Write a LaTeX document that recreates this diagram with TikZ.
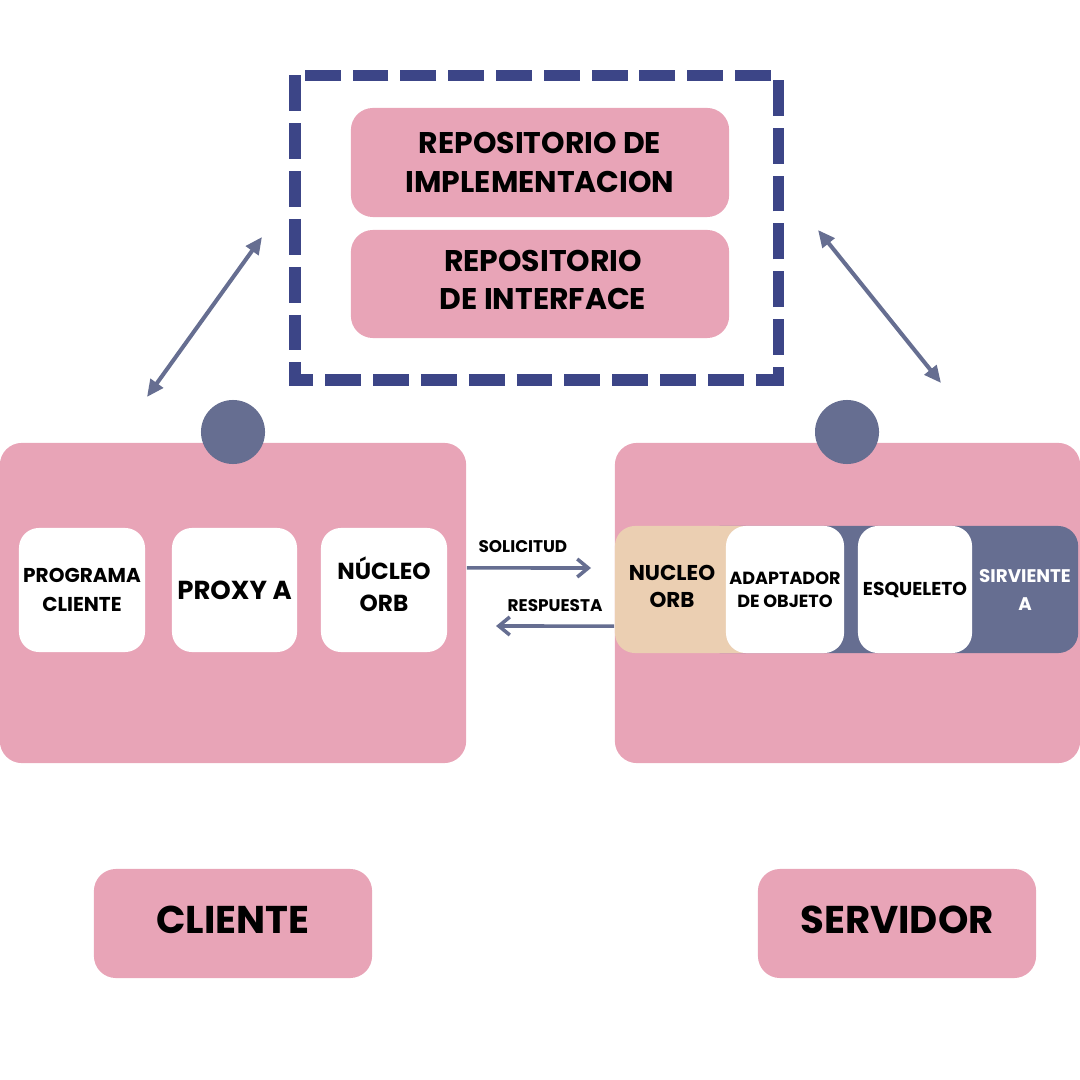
\documentclass[tikz,border=0pt]{standalone}
\usepackage{fontspec}
\setmainfont{Poppins}
\usetikzlibrary{arrows.meta}
\definecolor{rosa}{HTML}{E8A4B7}
\definecolor{pizarra}{HTML}{666E91}
\definecolor{marino}{HTML}{3C4587}
\definecolor{arena}{HTML}{EBCFB2}

\begin{document}
\begin{tikzpicture}
        [x=0.01cm,
        y=-0.01cm,
        panel/.style={fill=rosa, rounded corners=2.2mm, inner sep=0pt, align=center},
        card/.style={fill=white, rounded corners=2mm, inner sep=0pt, align=center, minimum height=1.24cm},
        strip/.style={rounded corners=2mm, inner sep=0pt, minimum height=1.27cm},
        repo/.style={panel, minimum width=3.78cm, font=\fontsize{8.5}{11.2}\selectfont\bfseries},
        rol/.style={panel, minimum width=2.78cm, minimum height=1.09cm, font=\fontsize{11}{13}\selectfont\bfseries},
        knob/.style={circle, fill=pizarra, inner sep=0pt, minimum size=0.64cm},
        small/.style={font=\fontsize{4.8}{6}\selectfont\bfseries, inner sep=0pt},
        flujo/.style={draw=pizarra, line width=1pt, -{Straight Barb[length=1.1mm, width=1.8mm]}},
        enlace/.style={draw=pizarra, line width=1.15pt, {Triangle[length=1.7mm, width=1.5mm]}-{Triangle[length=1.7mm, width=1.5mm]}}]
%%
\useasboundingbox (0,0) rectangle (1080,1080);
%%
%% Repositories in the dashed frame
%%
\draw[marino, line width=3.4pt, dash pattern=on 10.2pt off 3.4pt] (295,75.5) rectangle (778.5,380);
\node[repo, minimum height=1.09cm] (impl) at (540,162.5) {REPOSITORIO DE\\IMPLEMENTACION};
\node[repo, minimum height=1.08cm] (intf) at (540,284) {};
\node[inner sep=0pt, align=center, font=\fontsize{8.5}{10.8}\selectfont\bfseries] (intfT) at (543,280) {REPOSITORIO\\DE INTERFACE};
%%
%% Client and server panels
%%
\node[panel, minimum width=4.66cm, minimum height=3.2cm] (cliente) at (233,603) {};
\node[panel, minimum width=4.65cm, minimum height=3.2cm] (servidor) at (847.5,603) {};
\node[knob] (knobC) at (233,432) {};
\node[knob] (knobS) at (847,432) {};
%%
%% Client side
%%
\node[card, minimum width=1.26cm, font=\fontsize{5.7}{8.2}\selectfont\bfseries] (programa) at (82,590) {PROGRAMA\\CLIENTE};
\node[card, minimum width=1.25cm, font=\fontsize{7.4}{9}\selectfont\bfseries] (proxy) at (234.5,590) {PROXY A};
\node[card, minimum width=1.26cm] (orbC) at (384,590) {};
\node[inner sep=0pt, align=center, font=\fontsize{6.6}{9.1}\selectfont\bfseries] (orbCT) at (384,584) {NÚCLEO\\ORB};
%%
%% Server side
%%
\node[strip, fill=pizarra, minimum width=3.78cm] (fondo) at (889,589.5) {};
\node[strip, fill=arena, minimum width=1.45cm] (orbS) at (687.5,589.5) {};
\node[inner sep=0pt, align=center, font=\fontsize{6.1}{7.7}\selectfont\bfseries] (orbT) at (672,586) {NUCLEO\\ORB};
\node[card, minimum width=1.18cm, minimum height=1.27cm, font=\fontsize{5}{6.5}\selectfont\bfseries] (adaptador) at (785,589.5) {ADAPTADOR\\DE OBJETO};
\node[card, minimum width=1.14cm, minimum height=1.27cm, font=\fontsize{5.3}{7}\selectfont\bfseries] (esqueleto) at (915,589.5) {ESQUELETO};
\node[inner sep=0pt, align=center, text=white, font=\fontsize{5.2}{8}\selectfont\bfseries] (sirviente) at (1025,590) {SIRVIENTE\\A};
%%
%% Requests between the panels
%%
\coordinate (solFin) at (591,568);
\coordinate (resFin) at (496,626);
\draw[flujo] ([yshift=3.5mm]cliente.east) -- (solFin) node[small, midway, above=1.4mm, xshift=-0.6mm] (solicitud) {SOLICITUD};
\draw[flujo] ([yshift=-2.3mm]servidor.west) -- (resFin) node[small, midway, above=1.3mm] (respuesta) {RESPUESTA};
%%
%% Links to the repositories
%%
\coordinate (linkCa) at (147,397);
\coordinate (linkCb) at (262,237);
\coordinate (linkSa) at (818,230);
\coordinate (linkSb) at (941,383);
\draw[enlace] (linkCa) -- (linkCb);
\draw[enlace] (linkSa) -- (linkSb);
%%
%% Labels below
%%
\node[rol] (rolC) at (233,923.5) {};
\node[rol] (rolS) at (897,923.5) {};
\node[inner sep=0pt, font=\fontsize{11}{13}\selectfont\bfseries] (rolCT) at (233,920) {CLIENTE};
\node[inner sep=0pt, font=\fontsize{11}{13}\selectfont\bfseries] (rolST) at (897,920) {SERVIDOR};
\end{tikzpicture}
\end{document}
